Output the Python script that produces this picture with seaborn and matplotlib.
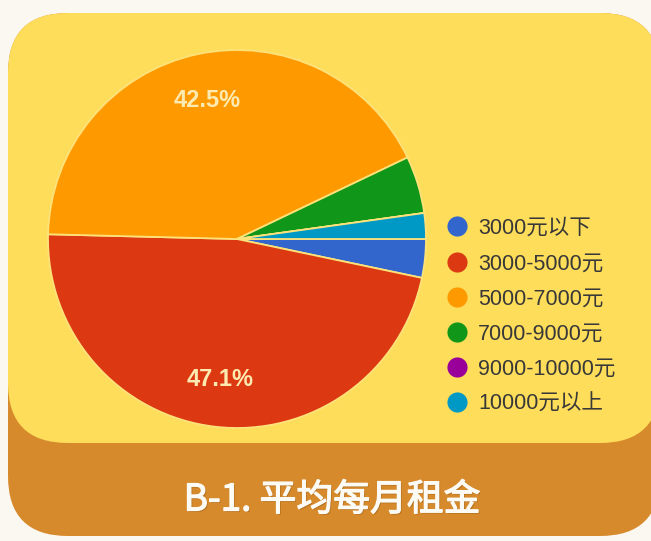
import numpy as np
import seaborn as sns
import matplotlib.pyplot as plt
from matplotlib.patches import FancyBboxPatch
from matplotlib.lines import Line2D
import matplotlib.patheffects as pe

# data (share of respondents, %)
categories = ['3000元以下', '3000-5000元', '5000-7000元', '7000-9000元',
              '9000-10000元', '10000元以上']
shares = [3.3, 47.1, 42.5, 4.9, 0.0, 2.2]
slice_colors = ['#3366CC', '#DC3912', '#FF9900', '#109618', '#990099', '#0099C6']
title_text = 'B-1. 平均每月租金'

sns.set_style('white')
plt.rcParams['font.family'] = ['Liberation Sans', 'Noto Sans CJK SC', 'DejaVu Sans']

page_bg = '#FBF7F1'
card_yellow = '#FEDD5A'
card_orange = '#D68A2C'

fig = plt.figure(figsize=(6.51, 5.41), dpi=100)
fig.patch.set_facecolor(page_bg)

# background axes in pixel units for the cards
bg = fig.add_axes([0, 0, 1, 1])
bg.set_xlim(0, 651)
bg.set_ylim(541, 0)
bg.axis('off')
rad = 60
bg.add_patch(FancyBboxPatch((8 + rad, 13 + rad), 652 - 2 * rad, 523 - 2 * rad,
                            boxstyle=f'round,pad={rad}', fc=card_orange, ec='none'))
bg.add_patch(FancyBboxPatch((8 + rad, 13 + rad), 652 - 2 * rad, 430 - 2 * rad,
                            boxstyle=f'round,pad={rad}', fc=card_yellow, ec='none'))
bg.text(332, 500, title_text, ha='center', va='center', color='#FDFBF5',
        fontsize=26.5, fontweight='medium', family=['Noto Sans CJK SC', 'DejaVu Sans'],
        path_effects=[pe.withSimplePatchShadow(offset=(1, -1), shadow_rgbFace='#7a4a10', alpha=0.35),
                      pe.withStroke(linewidth=0.9, foreground='#FDFBF5')])

# pie axes: centre (237, 239) px, radius 189 px
cx, cy, r = 237, 239, 189
ax = fig.add_axes([(cx - r) / 651, (541 - cy - r) / 541, 2 * r / 651, 2 * r / 541])
ax.set_facecolor('none')
wedges, texts, autotexts = ax.pie(
    shares, colors=sns.color_palette(slice_colors), startangle=0, counterclock=False,
    autopct=lambda p: f'{p:.1f}%' if p > 10 else '', pctdistance=0.75,
    wedgeprops=dict(edgecolor='#FDE27A', linewidth=1.3),
    textprops=dict(color='#FDEAB0', fontsize=17, fontweight='bold'))
ax.set_xlim(-1, 1)
ax.set_ylim(-1, 1)
ax.axis('off')

handles = [Line2D([], [], marker='o', linestyle='none', markersize=14.5,
                  markerfacecolor=c, markeredgecolor='none') for c in slice_colors]
fig.legend(handles, categories, loc='center left', bbox_to_anchor=(446 / 651, 1 - 316.5 / 541),
           frameon=False, fontsize=15.5, labelcolor='#383838', handletextpad=0.49,
           labelspacing=0.66, handlelength=1.0, borderaxespad=0, borderpad=0)

fig.savefig('out.png', dpi=100, facecolor=page_bg)
